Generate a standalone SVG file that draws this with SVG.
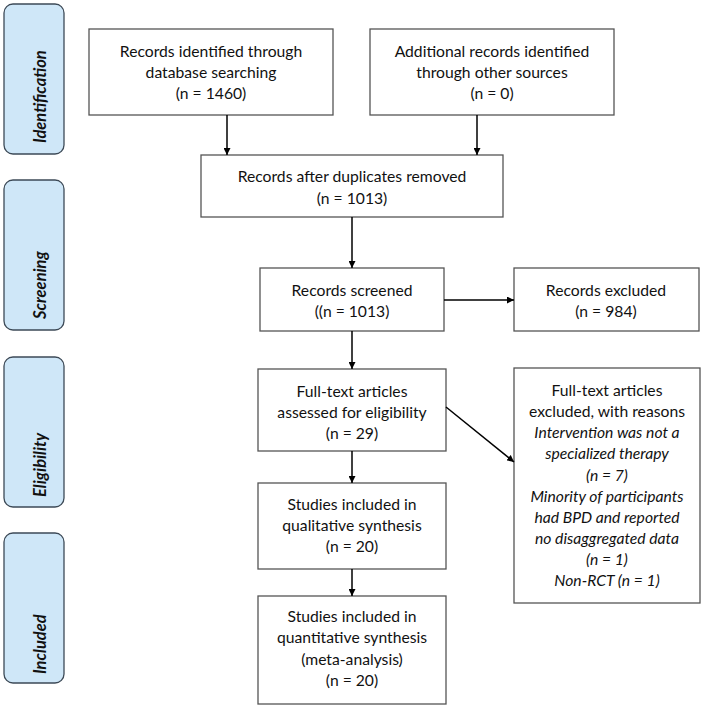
<svg xmlns="http://www.w3.org/2000/svg" width="705" height="708" viewBox="0 0 705 708">
<defs>
<marker id="ah" viewBox="0 0 10 10" refX="10" refY="5" markerWidth="7" markerHeight="7" orient="auto" markerUnits="userSpaceOnUse">
<path d="M0,0 L10,5 L0,10 z" fill="#000"/>
</marker>
<style>
.box{fill:#fff;stroke:#555;stroke-width:1.3}
.side{fill:#cfe7f8;stroke:#3d4a57;stroke-width:1.3}
.t{font-family:Lato,"Open Sans",sans-serif;font-size:15.7px;fill:#111;text-anchor:middle}
.i{font-style:italic}
.st{font-family:Lato,"Open Sans",sans-serif;font-size:16.5px;font-weight:bold;font-style:italic;fill:#111}
.c{stroke:#000;stroke-width:1.5;fill:none;marker-end:url(#ah)}
</style>
</defs>
<rect width="705" height="708" fill="#fff"/>
<g id="side-identification"><rect class="side" x="4" y="4" width="60" height="150" rx="9"/><text class="st" transform="translate(46,143) rotate(-90)">Identification</text></g>
<g id="side-screening"><rect class="side" x="4" y="180" width="60" height="150" rx="9"/><text class="st" transform="translate(46,319) rotate(-90)">Screening</text></g>
<g id="side-eligibility"><rect class="side" x="4" y="357" width="60" height="150" rx="9"/><text class="st" transform="translate(46,497) rotate(-90)">Eligibility</text></g>
<g id="side-included"><rect class="side" x="4" y="533" width="60" height="150" rx="9"/><text class="st" transform="translate(46,674) rotate(-90)">Included</text></g>

<g id="db"><rect class="box" x="89" y="29" width="244" height="86"/><text class="t" x="211" y="57">Records identified through</text><text class="t" x="211" y="78">database searching</text><text class="t" x="211" y="99">(n = 1460)</text></g>
<g id="other"><rect class="box" x="370" y="29" width="244" height="86"/><text class="t" x="492" y="57">Additional records identified</text><text class="t" x="492" y="78">through other sources</text><text class="t" x="492" y="99">(n = 0)</text></g>
<g id="dup"><rect class="box" x="201" y="155" width="302" height="62"/><text class="t" x="352" y="182">Records after duplicates removed</text><text class="t" x="352" y="204">(n = 1013)</text></g>
<g id="screened"><rect class="box" x="260" y="268" width="184" height="63"/><text class="t" x="352" y="296">Records screened</text><text class="t" x="352" y="317">((n = 1013)</text></g>
<g id="excluded"><rect class="box" x="514" y="268" width="185" height="63"/><text class="t" x="606" y="296">Records excluded</text><text class="t" x="606" y="317">(n = 984)</text></g>
<g id="fulltext"><rect class="box" x="258" y="369" width="188" height="82"/><text class="t" x="352" y="397">Full-text articles</text><text class="t" x="352" y="418">assessed for eligibility</text><text class="t" x="352" y="439">(n = 29)</text></g>
<g id="ftexcluded"><rect class="box" x="514" y="368" width="186" height="235"/>
<text class="t" x="607" y="396">Full-text articles</text>
<text class="t" x="607" y="417">excluded, with reasons</text>
<text class="t i" x="607" y="438">Intervention was not a</text>
<text class="t i" x="607" y="459">specialized therapy</text>
<text class="t i" x="607" y="481">(n = 7)</text>
<text class="t i" x="607" y="502">Minority of participants</text>
<text class="t i" x="607" y="523">had BPD and reported</text>
<text class="t i" x="607" y="544">no disaggregated data</text>
<text class="t i" x="607" y="565">(n = 1)</text>
<text class="t i" x="607" y="586">Non-RCT (n = 1)</text>
</g>
<g id="qual"><rect class="box" x="258" y="483" width="188" height="86"/><text class="t" x="352" y="510">Studies included in</text><text class="t" x="352" y="531">qualitative synthesis</text><text class="t" x="352" y="552">(n = 20)</text></g>
<g id="quant"><rect class="box" x="258" y="596" width="188" height="108"/><text class="t" x="352" y="622">Studies included in</text><text class="t" x="352" y="643">quantitative synthesis</text><text class="t" x="352" y="665">(meta-analysis)</text><text class="t" x="352" y="686">(n = 20)</text></g>

<g id="connectors">
<path class="c" d="M227,115 V155"/>
<path class="c" d="M477,115 V155"/>
<path class="c" d="M352,217 V268"/>
<path class="c" d="M444,300 H514"/>
<path class="c" d="M352,331 V369"/>
<path class="c" d="M446,407 L514,462"/>
<path class="c" d="M352,451 V483"/>
<path class="c" d="M352,569 V596"/>
</g>
</svg>
